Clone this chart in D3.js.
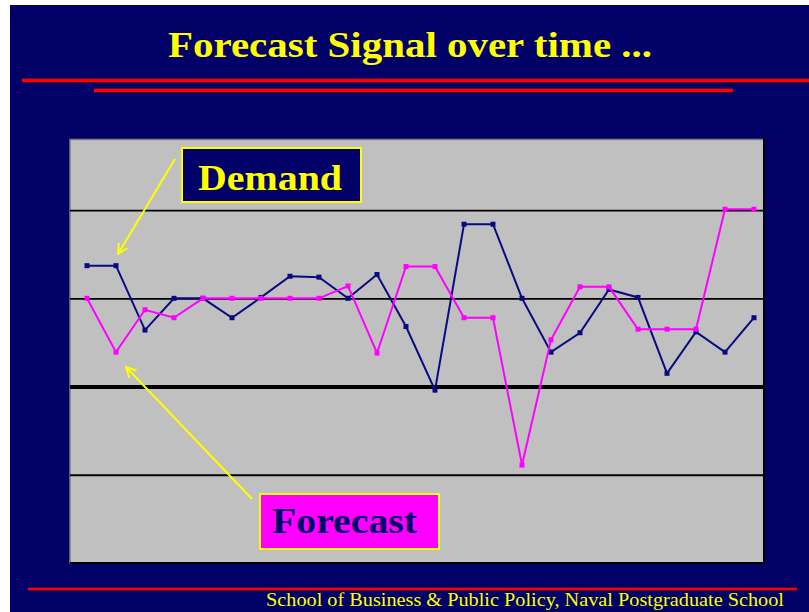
<!DOCTYPE html>
<html>
<head>
<meta charset="utf-8">
<script src="https://cdn.jsdelivr.net/npm/d3@7"></script>
<style>
  html, body { margin: 0; padding: 0; background: #ffffff; overflow: hidden; }
  svg { display: block; }
</style>
</head>
<body>
<svg id="chart" width="809" height="612"></svg>
<script>
// Time periods on the horizontal axis
const periods = [1, 2, 3, 4, 5, 6, 7, 8, 9, 10, 11, 12, 13, 14, 15, 16, 17, 18, 19, 20, 21, 22, 23, 24];
// Demand signal per period
const demand = [1.37, 1.37, 0.64, 1.0, 1.0, 0.78, 1.01, 1.25, 1.24, 1.0, 1.27, 0.68,
                -0.04, 1.84, 1.84, 1.0, 0.39, 0.61, 1.10, 1.01, 0.15, 0.62, 0.39, 0.78];
// Forecast signal per period
const forecast = [1.0, 0.39, 0.87, 0.78, 1.0, 1.0, 1.0, 1.0, 1.0, 1.14, 0.38, 1.36,
                  1.36, 0.78, 0.78, -0.89, 0.53, 1.13, 1.13, 0.65, 0.65, 0.65, 2.01, 2.01];
// Horizontal reference lines
const gridValues = [-1, 0, 1, 2];

const NAVY = "#000066";
const YELLOW = "#ffff00";
const PINK = "#ff00ff";
const RED = "#ff0000";
const LINE_NAVY = "#0a0a80";

const svg = d3.select("#chart");

// slide background
svg.append("rect").attr("x", 0).attr("y", 0).attr("width", 809).attr("height", 612).attr("fill", "#ffffff");
svg.append("rect").attr("x", 10).attr("y", 5).attr("width", 799).attr("height", 607).attr("fill", NAVY);

// title
svg.append("text")
  .attr("x", 168).attr("y", 57)
  .attr("textLength", 484).attr("lengthAdjust", "spacingAndGlyphs")
  .style("font-family", "'Liberation Serif', 'Times New Roman', serif")
  .style("font-weight", "bold").style("font-size", "36px")
  .attr("fill", YELLOW)
  .text("Forecast Signal over time ...");

// red rules under the title and above the footer
const rule = (x1, x2, y, w) => {
  svg.append("line").attr("x1", x1).attr("x2", x2).attr("y1", y).attr("y2", y)
    .attr("stroke", "#b00000").attr("stroke-width", w + 1);
  svg.append("line").attr("x1", x1).attr("x2", x2).attr("y1", y).attr("y2", y)
    .attr("stroke", RED).attr("stroke-width", w);
};
rule(22, 809, 80.5, 3);
rule(94, 733, 90.5, 3);
rule(28, 797, 589, 2);

// plot area
const plot = { left: 70, right: 764, top: 139.5, bottom: 563 };

const x = d3.scalePoint().domain(periods).range([87, 754]);
const y = d3.scaleLinear().domain([-2, 2.8]).range([plot.bottom, plot.top]);

svg.append("rect")
  .attr("x", plot.left).attr("y", plot.top)
  .attr("width", plot.right - plot.left).attr("height", plot.bottom - plot.top)
  .attr("fill", "#c0c0c0").attr("stroke", "#808080").attr("stroke-width", 1.5);
// shadowed right/bottom edge
svg.append("path")
  .attr("d", `M${plot.right},${plot.top - 1}V${plot.bottom}H${plot.left}`)
  .attr("fill", "none").attr("stroke", "#000000").attr("stroke-width", 2);

// horizontal reference lines drawn through an axis
const grid = svg.append("g")
  .attr("transform", `translate(${plot.left},0)`)
  .call(d3.axisLeft(y).tickValues(gridValues).tickSize(-(plot.right - plot.left)).tickFormat(""));
grid.select(".domain").remove();
grid.selectAll(".tick line")
  .attr("stroke", "#000000")
  .attr("stroke-width", d => d === 0 ? 4 : 1.8);

// series
const line = d3.line().x((d, i) => x(periods[i])).y(d => y(d));

const drawSeries = (values, color) => {
  svg.append("path").datum(values)
    .attr("d", line)
    .attr("fill", "none").attr("stroke", color).attr("stroke-width", 2)
    .attr("stroke-linejoin", "miter");
  svg.append("g").selectAll("rect").data(values).join("rect")
    .attr("x", (d, i) => x(periods[i]) - 2.5)
    .attr("y", d => y(d) - 2.5)
    .attr("width", 5).attr("height", 5)
    .attr("fill", color);
};
drawSeries(demand, LINE_NAVY);
drawSeries(forecast, PINK);

// callout arrows
const defs = svg.append("defs");
defs.append("marker")
  .attr("id", "head").attr("viewBox", "0 0 12 12")
  .attr("refX", 11).attr("refY", 6)
  .attr("markerWidth", 12).attr("markerHeight", 12)
  .attr("markerUnits", "userSpaceOnUse")
  .attr("orient", "auto")
  .append("path").attr("d", "M1,1L11,6L1,11")
  .attr("fill", "none").attr("stroke", YELLOW).attr("stroke-width", 2);

svg.append("line").attr("x1", 175).attr("y1", 159).attr("x2", 118).attr("y2", 254)
  .attr("stroke", YELLOW).attr("stroke-width", 2).attr("marker-end", "url(#head)");
svg.append("line").attr("x1", 252).attr("y1", 499).attr("x2", 126).attr("y2", 367)
  .attr("stroke", YELLOW).attr("stroke-width", 2).attr("marker-end", "url(#head)");

// series labels
svg.append("rect").attr("x", 182).attr("y", 148).attr("width", 179).attr("height", 54)
  .attr("fill", NAVY).attr("stroke", YELLOW).attr("stroke-width", 2);
svg.append("text")
  .attr("x", 198).attr("y", 190)
  .attr("textLength", 144).attr("lengthAdjust", "spacingAndGlyphs")
  .style("font-family", "'Liberation Serif', 'Times New Roman', serif")
  .style("font-weight", "bold").style("font-size", "36px")
  .attr("fill", YELLOW).text("Demand");

svg.append("rect").attr("x", 260).attr("y", 494).attr("width", 179).attr("height", 55)
  .attr("fill", PINK).attr("stroke", YELLOW).attr("stroke-width", 2);
svg.append("text")
  .attr("x", 272).attr("y", 533)
  .attr("textLength", 145).attr("lengthAdjust", "spacingAndGlyphs")
  .style("font-family", "'Liberation Serif', 'Times New Roman', serif")
  .style("font-weight", "bold").style("font-size", "36px")
  .attr("fill", NAVY).text("Forecast");

// footer
svg.append("text")
  .attr("x", 266).attr("y", 606)
  .attr("textLength", 518).attr("lengthAdjust", "spacingAndGlyphs")
  .style("font-family", "'Liberation Serif', 'Times New Roman', serif")
  .style("font-size", "18px")
  .attr("fill", YELLOW)
  .text("School of Business & Public Policy, Naval Postgraduate School");
</script>
</body>
</html>
